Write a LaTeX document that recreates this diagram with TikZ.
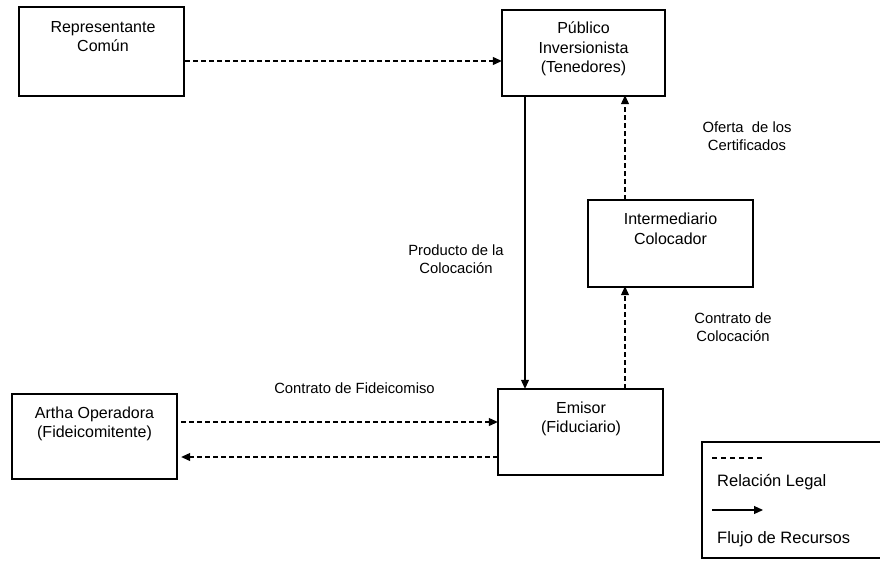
\documentclass[tikz,border=0pt]{standalone}
\usepackage{fontspec}
\setmainfont{Liberation Sans}
\usetikzlibrary{arrows.meta}
\begin{document}
\begin{tikzpicture}[x=1pt,y=-1pt,
  boxline/.style={line width=1.3pt},
  holder/.style={inner sep=0pt,minimum width=#1},
  txt/.style={align=center,font=\fontsize{16}{19.3}\selectfont,inner sep=0pt,anchor=north},
  lbl/.style={align=center,font=\fontsize{14.8}{18}\selectfont,inner sep=0pt,anchor=north},
  leg/.style={font=\fontsize{16.5}{19}\selectfont,inner sep=0pt,anchor=base west},
  tip/.style={-{Triangle[length=9pt,width=8pt]}},
  legal/.style={tip,dash pattern=on 4.5pt off 3.5pt,line width=1.1pt},
  flujo/.style={tip,line width=1.1pt}]
\useasboundingbox (0,0) rectangle (880,562);
% boxes
\draw[boxline] (19,7) rectangle (184,96);
\node (rc) at (101.5,51.5) [minimum width=165pt,minimum height=89pt,inner sep=0pt] {};
\node[txt] at (103,21.3) {Representante\\Común};

\draw[boxline] (502,10) rectangle (665,96);
\node (pi) at (583.5,53) [minimum width=163pt,minimum height=86pt,inner sep=0pt] {};
\node[txt] at (583.5,22) {Público\\Inversionista\\(Tenedores)};

\draw[boxline] (588,200) rectangle (753,287);
\node (ic) at (670.5,243.5) [minimum width=165pt,minimum height=87pt,inner sep=0pt] {};
\node[txt] at (670.5,213) {Intermediario\\Colocador};

\draw[boxline] (498,389) rectangle (663,475);
\node (em) at (580.5,432) [minimum width=165pt,minimum height=86pt,inner sep=0pt] {};
\node[txt] at (581,401.3) {Emisor\\(Fiduciario)};

\draw[boxline] (12,394) rectangle (177,479);
\node (ao) at (94.5,436.5) [minimum width=165pt,minimum height=85pt,inner sep=0pt] {};
\node[txt] at (94.5,406.3) {Artha Operadora\\(Fideicomitente)};

% connectors
\draw[legal] ([xshift=1pt]rc.east |- 0,61) -- (pi.west |- 0,61);
\draw[flujo] (pi.south -| 525,0) -- (em.north -| 525,0);
\draw[legal] (em.north -| 625,0) -- ([yshift=1pt]ic.south -| 625,0);
\draw[legal] (ic.north -| 625,0) -- ([yshift=1pt]pi.south -| 625,0);
\draw[legal] ([xshift=4pt]ao.east |- 0,422) -- (em.west |- 0,422);
\draw[legal] (em.west |- 0,457) -- ([xshift=4pt]ao.east |- 0,457);

% labels
\node[lbl] (l1) at (747,122) {Oferta\ \ de los\\Certificados};
\node[lbl] (l2) at (456,244.3) {Producto de la\\Colocación};
\node[lbl] (l3) at (733,312.3) {Contrato de\\Colocación};
\node[lbl] (l4) at (354.5,382.3) {Contrato de Fideicomiso};

% legend
\draw[boxline] (884,442) -- (702,442) -- (702,558) -- (884,558);
\coordinate (d1) at (712,458);
\coordinate (d2) at (762,458);
\draw[dash pattern=on 5pt off 4pt,line width=1.1pt] (d1) -- (d2);
\node[leg] (lg1) at (717,486) {Relación Legal};
\coordinate (f1) at (712,510);
\coordinate (f2) at (763,510);
\draw[flujo] (f1) -- (f2);
\node[leg] (lg2) at (717,543) {Flujo de Recursos};
\end{tikzpicture}
\end{document}
